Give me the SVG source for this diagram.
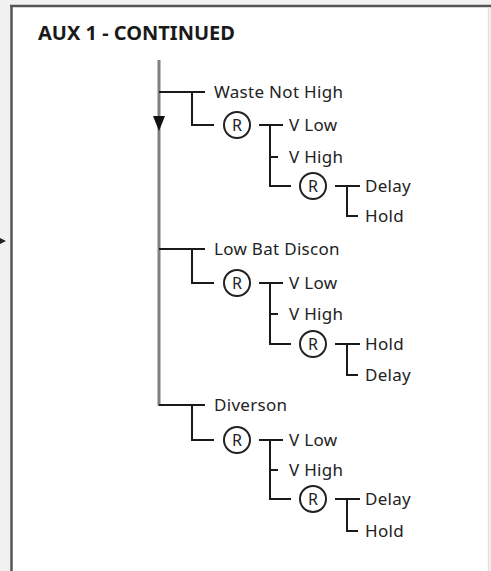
<svg xmlns="http://www.w3.org/2000/svg" width="491" height="571" viewBox="0 0 491 571">
  <defs>
    <style>
      .lbl { font-family: "Noto Sans", "Open Sans", sans-serif; font-size: 17px; fill: #222; letter-spacing: 0.3px; }
      .title { font-family: "Noto Sans", "Open Sans", sans-serif; font-size: 20px; font-weight: bold; fill: #1a1a1a; }
      .r { font-family: "Noto Sans", "Open Sans", sans-serif; font-size: 16px; fill: #222; text-anchor: middle; }
      .ln { fill: none; stroke: #1a1a1a; stroke-width: 2; }
      .ring { fill: #fff; stroke: #222; stroke-width: 2; }
    </style>
  </defs>
  <rect x="0" y="0" width="491" height="571" fill="#f1f1f1"/>
  <rect x="12" y="6" width="476" height="570" fill="#ffffff"/>
  <line x1="11.5" y1="5" x2="11.5" y2="571" stroke="#555" stroke-width="2.5"/>
  <line x1="10" y1="6" x2="491" y2="6" stroke="#555" stroke-width="2.5"/>
  <line x1="488.5" y1="7" x2="488.5" y2="571" stroke="#e2e2e2" stroke-width="1.5"/>
  <polygon points="0,238 6,241 0,244" fill="#222"/>

  <text class="title" x="38" y="40">AUX 1 - CONTINUED</text>

  <g id="connectors">
    <line x1="159" y1="60" x2="159" y2="406" stroke="#808080" stroke-width="3"/>
    <polygon points="153,116 165,116 159,131" fill="#111"/>
    <path class="ln" d="M159 92 H205 M192 92 V125 H214 M259 125 H283 M270 125 V186 H291 M270 157 H278 M335 186 H360 M347 186 V216 H358"/>
    <path class="ln" d="M159 249 H205 M192 249 V283 H214 M259 283 H283 M270 283 V344 H291 M270 314 H278 M335 344 H360 M347 344 V375 H358"/>
    <path class="ln" d="M159 405 H205 M192 405 V440 H214 M259 440 H283 M270 440 V499 H291 M270 470 H278 M335 499 H360 M347 499 V531 H358"/>
  </g>

  <g id="waste-not-high">
    <text class="lbl" x="214" y="98">Waste Not High</text>
    <circle class="ring" cx="237" cy="125" r="13"/><text class="r" x="237" y="130.8">R</text>
    <text class="lbl" x="289" y="131">V Low</text>
    <text class="lbl" x="289" y="163">V High</text>
    <circle class="ring" cx="313" cy="186" r="13"/><text class="r" x="313" y="191.8">R</text>
    <text class="lbl" x="365" y="192">Delay</text>
    <text class="lbl" x="365" y="222">Hold</text>
  </g>

  <g id="low-bat-discon">
    <text class="lbl" x="214" y="255">Low Bat Discon</text>
    <circle class="ring" cx="237" cy="283" r="13"/><text class="r" x="237" y="288.8">R</text>
    <text class="lbl" x="289" y="289">V Low</text>
    <text class="lbl" x="289" y="320">V High</text>
    <circle class="ring" cx="313" cy="344" r="13"/><text class="r" x="313" y="349.8">R</text>
    <text class="lbl" x="365" y="350">Hold</text>
    <text class="lbl" x="365" y="381">Delay</text>
  </g>

  <g id="diverson">
    <text class="lbl" x="214" y="411">Diverson</text>
    <circle class="ring" cx="237" cy="440" r="13"/><text class="r" x="237" y="445.8">R</text>
    <text class="lbl" x="289" y="446">V Low</text>
    <text class="lbl" x="289" y="476">V High</text>
    <circle class="ring" cx="313" cy="499" r="13"/><text class="r" x="313" y="504.8">R</text>
    <text class="lbl" x="365" y="505">Delay</text>
    <text class="lbl" x="365" y="537">Hold</text>
  </g>
</svg>
